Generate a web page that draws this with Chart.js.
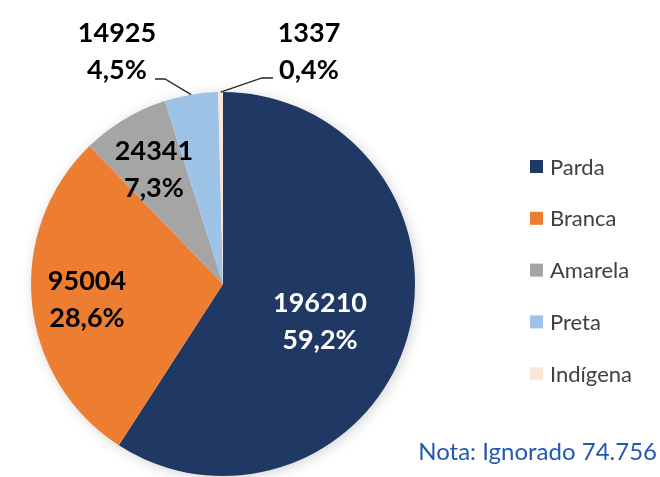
<!DOCTYPE html>
<html>
<head>
<meta charset="utf-8">
<script src="https://cdn.jsdelivr.net/npm/chart.js@4/dist/chart.umd.min.js"></script>
<style>
    body { margin: 0; background: #ffffff; }
    #wrap { position: relative; width: 660px; height: 477px; }
</style>
</head>
<body>
<div id="wrap"><canvas id="myChart"></canvas></div>
<script>
// data
let categorias = ['Parda', 'Branca', 'Amarela', 'Preta', 'Indígena'];
let valores = [196210, 95004, 24341, 14925, 1337];
let percentagens = ['59,2%', '28,6%', '7,3%', '4,5%', '0,4%'];
let kleuren = ['#203864', '#ED7D31', '#A5A5A5', '#9DC3E6', '#FBE5D6'];
let labelKleuren = ['#ffffff', '#000000', '#000000', '#000000', '#000000'];
let nota = 'Nota: Ignorado 74.756';

// label plaats t.o.v. middelpunt taart
let labelOffsets = [[97, 18], [-136, -4], [-69, -134], [-106, -252], [86, -252]];
// leader lines (begin, knik) t.o.v. middelpunt
let leaderLines = { 3: [[-68, -205], [-58, -205]], 4: [[50, -206], [39, -206]] };

let schaduw = {
    id: 'schaduw',
    beforeDatasetsDraw: function (chart) {
        let arc = chart.getDatasetMeta(0).data[0];
        let ctx = chart.ctx;
        ctx.save();
        ctx.shadowColor = 'rgba(0,0,0,0.20)';
        ctx.shadowBlur = 14;
        ctx.shadowOffsetX = 2;
        ctx.shadowOffsetY = 2;
        ctx.fillStyle = '#ffffff';
        ctx.beginPath();
        ctx.arc(arc.x, arc.y, arc.outerRadius - 1, 0, Math.PI * 2);
        ctx.fill();
        ctx.restore();
    }
};

let labels = {
    id: 'labels',
    afterDatasetsDraw: function (chart) {
        let ctx = chart.ctx;
        let meta = chart.getDatasetMeta(0);
        meta.data.forEach((arc, i) => {
            let off = labelOffsets[i];
            let x = arc.x + off[0];
            let y = arc.y + off[1];

            // leader line
            if (leaderLines[i]) {
                let mid = (arc.startAngle + arc.endAngle) / 2;
                let px = arc.x + Math.cos(mid) * arc.outerRadius;
                let py = arc.y + Math.sin(mid) * arc.outerRadius;
                ctx.save();
                ctx.strokeStyle = '#262626';
                ctx.lineWidth = 1.3;
                ctx.beginPath();
                ctx.moveTo(arc.x + leaderLines[i][0][0], arc.y + leaderLines[i][0][1]);
                ctx.lineTo(arc.x + leaderLines[i][1][0], arc.y + leaderLines[i][1][1]);
                ctx.lineTo(px, py);
                ctx.stroke();
                ctx.restore();
            }

            ctx.save();
            ctx.font = 'bold 27px Lato';
            ctx.fillStyle = labelKleuren[i];
            ctx.textAlign = 'center';
            ctx.textBaseline = 'alphabetic';
            ctx.fillText(String(chart.data.datasets[0].data[i]), x, y + 10);
            ctx.fillText(percentagens[i], x, y + 47);
            ctx.restore();
        });

        // legende
        let lx = 530;
        let ly = 166.5;
        categorias.forEach((naam, i) => {
            ctx.save();
            ctx.fillStyle = kleuren[i];
            ctx.fillRect(lx, ly + i * 51.8 - 6.5, 13, 13);
            ctx.font = '22px Lato';
            ctx.fillStyle = '#404040';
            ctx.textBaseline = 'middle';
            ctx.fillText(naam, lx + 20, ly + i * 51.8 + 1);
            ctx.restore();
        });

        // nota
        ctx.save();
        ctx.font = '24px Lato';
        ctx.fillStyle = '#2158B5';
        ctx.textAlign = 'right';
        ctx.textBaseline = 'alphabetic';
        ctx.fillText(nota, 657, 460);
        ctx.restore();
    }
};

let ctx = document.getElementById('myChart');

let myPieChart = new Chart(ctx, {
    type: 'pie',
    data: {
        labels: categorias,
        datasets: [{
            data: valores,
            backgroundColor: kleuren,
            borderWidth: 0,
            hoverOffset: 0
        }]
    },
    options: {
        responsive: true,
        maintainAspectRatio: false,
        animation: false,
        layout: {
            padding: { left: 31, right: 245, top: 92, bottom: 1 }
        },
        plugins: {
            legend: { display: false },
            tooltip: { enabled: false }
        }
    },
    plugins: [schaduw, labels]
});
</script>
</body>
</html>
